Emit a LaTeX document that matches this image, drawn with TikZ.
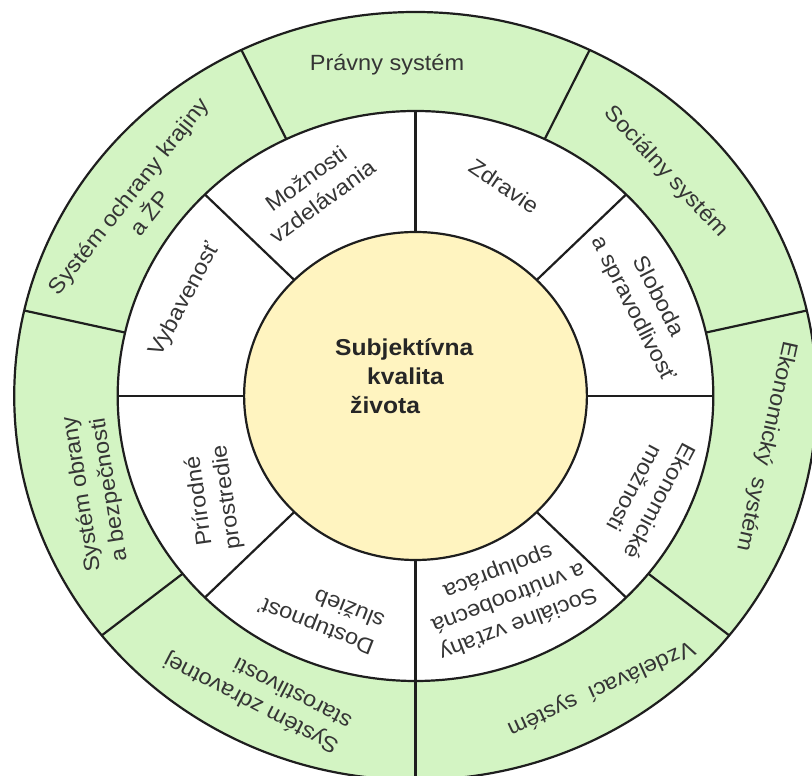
\documentclass[tikz,border=0pt]{standalone}
\usepackage{fontspec}
\setmainfont{Liberation Sans}[FakeStretch=1.07]
\definecolor{ringgreen}{HTML}{D3F4C3}
\definecolor{coreyellow}{HTML}{FFF4C0}
\definecolor{linec}{HTML}{1E1E1E}
\definecolor{txt}{HTML}{353535}
\begin{document}
\begin{tikzpicture}[x=1pt,y=1pt,
  lbl/.style={font=\fontsize{22}{28}\selectfont, text=txt, align=center, inner sep=0pt},
  sepline/.style={draw=linec, line width=2.2pt},
  ringline/.style={draw=linec, line width=2.2pt}]
\useasboundingbox (0,0) rectangle (812,776);
\clip (0,0) rectangle (812,776);
\fill[white] (0,0) rectangle (812,776);
\begin{scope}[shift={(415.5,380)}, xscale=1.045]
  \fill[ringgreen] (0,0) circle (384pt);
  \fill[white] (0,0) circle (285pt);
  \fill[coreyellow] (0,0) circle (164pt);
  \foreach \a in {0,45,...,315} \draw[sepline] (\a:164pt) -- (\a:285pt);
  \foreach \k in {0,...,6} \draw[sepline] ({270+\k*360/7}:285pt) -- ({270+\k*360/7}:384pt);
  \draw[ringline] (0,0) circle (384pt);
  \draw[ringline] (0,0) circle (285pt);
  \draw[ringline] (0,0) circle (164pt);
\end{scope}
% outer ring labels
\node[lbl] (pravny) at (387,711) {Právny systém};
\node[lbl, rotate=-47] (socialny) at (666,604) {Sociálny systém};
\node[lbl, rotate=-102.5] (ekonomicky) at (766,330) {Ekonomický\ \ systém};
\node[lbl, rotate=-155.5] (vzdelavaci) at (601,88) {Vzdelávací\ \ systém};
\node[lbl, rotate=152.6, align=left] (zdravotnej) at (257,84) {Systém zdravotnej\\starostlivosti};
\node[lbl, rotate=99] (obrany) at (96,284) {Systém obrany\\a bezpečnosti};
\node[lbl, rotate=51.6] (ochrany) at (139,571.5) {Systém ochrany krajiny\\a ŽP};
% inner ring labels
\node[lbl, rotate=36] (moznosti) at (314,586) {Možnosti\\vzdelávania};
\node[lbl, rotate=-34] (zdravie) at (504,590) {Zdravie};
\node[lbl, rotate=-63] (sloboda) at (645,473) {Sloboda\\a spravodlivosť};
\node[lbl, rotate=-118] (ekmoz) at (648,281) {Ekonomické\\možnosti};
\node[lbl, rotate=-159] (vztahy) at (508,179) {Sociálne vzťahy\\a vnútroobecná\\spolupráca};
\node[lbl, rotate=158.5, align=left] (dostupnost) at (321.5,162) {Dostupnosť\\služieb};
\node[lbl, rotate=98] (prirodne) at (213.5,277) {Prírodné\\prostredie};
\node[lbl, rotate=62] (vybavenost) at (185,476) {Vybavenosť};
% centre
\node[font=\fontsize{23}{29}\selectfont\bfseries, text=black!85, align=left, inner sep=0pt, anchor=north west] (core) at (335,438)
  {Subjektívna\\\hspace*{32pt}kvalita\\\hspace*{15pt}života};
\end{tikzpicture}
\end{document}
